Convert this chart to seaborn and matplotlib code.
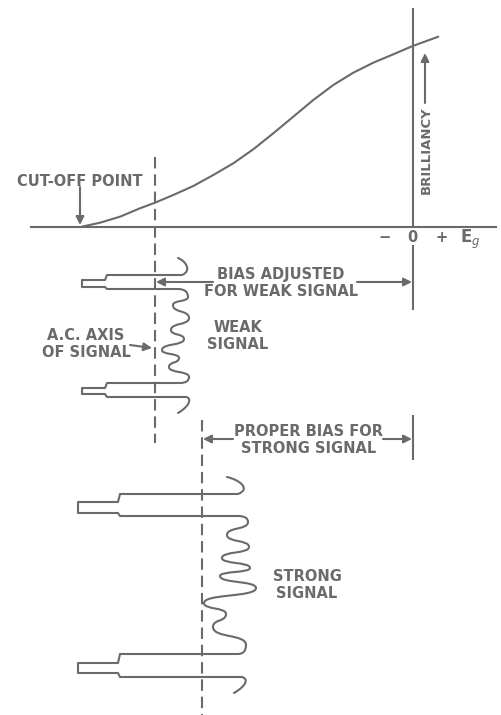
import numpy as np
import matplotlib
matplotlib.use('Agg')
import matplotlib.pyplot as plt
import seaborn as sns
from matplotlib.path import Path
from matplotlib.patches import PathPatch

# brilliancy vs grid voltage curve (pixel space, y grows downward)
curve_x = [81.7, 100, 120, 140, 155, 173.3, 193.3, 213.3, 233.3, 253.3, 273.3,
           293.3, 313.3, 333.3, 353.3, 373.3, 393.3, 412.7, 438.3]
curve_y = [226.7, 222.7, 216.7, 208.3, 202.7, 195, 186, 175, 163.3, 149.3, 133.3,
           116.7, 100, 85, 72.7, 62.7, 54.3, 46, 36.7]

axis_x = [30, 497]
axis_y = 226.7
zero_x = 412.7

# weak signal
weak_hook_top = [(178, 258), (186, 261), (192, 271), (182, 275)]
weak_sync_top = [(107, 275), (105, 280), (82, 280), (82, 287), (105, 287), (107, 289), (178, 289)]
weak_wave_x = [178, 188, 173, 189, 171, 184, 162, 179, 169, 189, 180]
weak_wave_y = [289, 297, 305, 318, 330, 339, 350, 358, 367, 377, 383]
weak_sync_bot = [(107, 383), (105, 388), (82, 388), (82, 394), (105, 394), (107, 397), (186, 397)]
weak_hook_bot = [(192, 398), (190, 406), (178, 413)]

# strong signal
strong_hook_top = [(227, 477), (240, 480), (251, 489), (238, 494)]
strong_sync_top = [(120, 494), (118, 502), (78, 502), (78, 513), (118, 513), (120, 516), (238, 516)]
strong_wave_x = [238, 248, 227, 249, 222, 250, 220, 256, 204, 226, 213, 246, 238]
strong_wave_y = [516, 522, 535, 547, 558, 568, 576, 588, 603, 614, 627, 645, 654]
strong_sync_bot = [(120, 654), (118, 663), (78, 663), (78, 673), (118, 673), (120, 677), (242, 677)]
strong_hook_bot = [(249, 679), (246, 686), (234, 693)]

# dashed a.c. axes: x, top, bottom
dash_x = [155, 202]
dash_top = [157, 420]
dash_bot = [443, 715]

GRAY = '#6a6a6a'
LW = 1.5

sns.set_style('white')
plt.rcParams['font.family'] = ['DejaVu Sans']

fig = plt.figure(figsize=(5.01, 7.15), dpi=100)
ax = fig.add_axes([0, 0, 1, 1])
ax.set_xlim(0, 501)
ax.set_ylim(715, 0)
ax.axis('off')

# axes of the characteristic
ax.hlines(axis_y, axis_x[0], axis_x[1], color=GRAY, lw=LW)
ax.vlines(zero_x, 8, axis_y, color=GRAY, lw=LW)
ax.vlines(zero_x, 245, 310, color=GRAY, lw=LW)
ax.vlines(zero_x, 415, 460, color=GRAY, lw=LW)
sns.lineplot(x=curve_x, y=curve_y, sort=False, ax=ax, color=GRAY, lw=LW)

ax.vlines(dash_x, dash_top, dash_bot, color=GRAY, lw=LW, linestyles=(0, (5.5, 2.8)))


def signal_path(hook_top, sync_top, wave_x, wave_y, sync_bot, hook_bot, k=0.62):
    verts = [hook_top[0]] + hook_top[1:]
    codes = [Path.MOVETO] + [Path.CURVE4] * 3
    verts += sync_top
    codes += [Path.LINETO] * len(sync_top)
    pts = list(zip(wave_x, wave_y))
    (x0, y0), (x1, y1) = pts[0], pts[1]
    verts += [(x1, y0), (x1, y1)]
    codes += [Path.CURVE3] * 2
    for (xa, ya), (xb, yb) in zip(pts[1:-2], pts[2:-1]):
        d = k * (yb - ya)
        verts += [(xa, ya + d), (xb, yb - d), (xb, yb)]
        codes += [Path.CURVE4] * 3
    (xa, ya), (xb, yb) = pts[-2], pts[-1]
    verts += [(xa, yb), (xb, yb)]
    codes += [Path.CURVE3] * 2
    verts += sync_bot
    codes += [Path.LINETO] * len(sync_bot)
    verts += hook_bot
    codes += [Path.CURVE4] * 3
    return Path(verts, codes)


for args in [(weak_hook_top, weak_sync_top, weak_wave_x, weak_wave_y, weak_sync_bot, weak_hook_bot),
             (strong_hook_top, strong_sync_top, strong_wave_x, strong_wave_y, strong_sync_bot, strong_hook_bot)]:
    ax.add_patch(PathPatch(signal_path(*args), fill=False, ec=GRAY, lw=LW, joinstyle='round', capstyle='round'))

# arrows: (tail, tip)
arrows = [((80, 187), (80, 225)),
          ((425, 103), (425, 53)),
          ((213, 282), (156, 282)), ((357, 282), (412, 282)),
          ((130, 345), (152, 348)),
          ((233, 439), (203, 439)), ((383, 439), (412, 439))]
for tail, tip in arrows:
    ax.annotate('', xy=tip, xytext=tail,
                arrowprops=dict(arrowstyle='-|>', color=GRAY, lw=LW, mutation_scale=12,
                                shrinkA=0, shrinkB=0))

txt = dict(color=GRAY, fontsize=10.5, fontweight='bold', ha='center', va='center', linespacing=1.2)
ax.text(80, 181, 'CUT-OFF POINT', **txt)
ax.text(426, 150, 'BRILLIANCY', rotation=90, **{**txt, 'fontsize': 9.5})
ax.text(385, 238, '−', **txt)
ax.text(412, 238, '0', **txt)
ax.text(442, 238, '+', **txt)
ax.text(470, 239, 'E$_g$', **{**txt, 'fontsize': 12})
ax.text(281, 283, 'BIAS ADJUSTED\nFOR WEAK SIGNAL', **txt)
ax.text(238, 336, 'WEAK\nSIGNAL', **txt)
ax.text(86, 344, 'A.C. AXIS\nOF SIGNAL', **txt)
ax.text(309, 440, 'PROPER BIAS FOR\nSTRONG SIGNAL', **txt)
ax.text(307, 585, 'STRONG\nSIGNAL', **txt)

fig.savefig('out.png', dpi=100)
